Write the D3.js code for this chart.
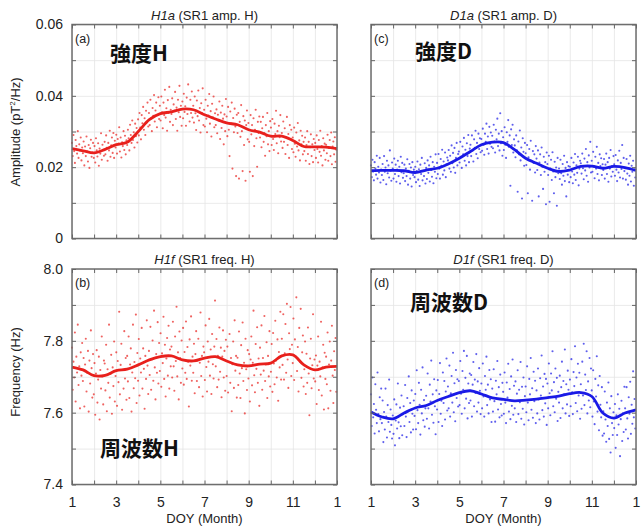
<html>
<head>
<meta charset="utf-8">
<style>
  body { margin: 0; background: #fff; }
  text { font-family: "Liberation Sans", Arial, sans-serif; }
  .grid line { stroke: #e4e4e4; stroke-width: 0.8; }
  .grid path { display: none; }
  .tk line { stroke: #666; stroke-width: 1; }
  .tk path { display: none; }
  .lab path, .lab line { display: none; }
  .jp { font-family: "Noto Sans CJK JP", sans-serif; font-weight: 700; font-size: 21px; fill: #111; }
</style>
</head>

<body>
  <svg id="svg" width=643 height=529></svg>

  <script src="https://cdn.jsdelivr.net/npm/d3@7/dist/d3.min.js"></script>
  <script type="text/javascript">
  // smoothed curve, sampled every half month
  const curveMonths = [1,1.5,2,2.5,3,3.5,4,4.5,5,5.5,6,6.5,7,7.5,8,8.5,9,9.5,10,10.5,11,11.5,12,12.5,13];
  const curveH1a = [0.0252,0.0246,0.0240,0.0250,0.0263,0.0270,0.0300,0.0333,0.0350,0.0355,0.0363,0.0361,0.0347,0.0335,0.0324,0.0319,0.0305,0.0298,0.0287,0.0287,0.0275,0.0258,0.0257,0.0256,0.0252];
  const curveD1a = [0.0190,0.0191,0.0191,0.0190,0.0185,0.0192,0.0197,0.0209,0.0225,0.0244,0.0263,0.0270,0.0269,0.0249,0.0225,0.0211,0.0197,0.0188,0.0192,0.0202,0.0203,0.0197,0.0202,0.0199,0.0191];
  const curveH1f = [7.727,7.719,7.703,7.704,7.717,7.721,7.733,7.747,7.756,7.758,7.747,7.744,7.752,7.756,7.744,7.733,7.730,7.735,7.738,7.758,7.761,7.733,7.719,7.727,7.729];
  const curveD1f = [7.602,7.588,7.583,7.599,7.613,7.620,7.634,7.645,7.656,7.661,7.652,7.641,7.637,7.633,7.635,7.638,7.642,7.646,7.653,7.656,7.645,7.599,7.585,7.599,7.608];

  // daily values over the year; amplitudes in 1e-4 pT^2/Hz, frequencies in mHz
  const dailyH1a = [
    268,231,290,245,212,276,259,238,301,226,264,247,283,219,255,
    239,272,205,258,231,286,244,216,262,198,253,277,229,241,268,
    226,259,213,281,247,230,267,204,252,238,295,221,263,249,232,
    271,236,289,254,218,268,247,302,229,261,283,240,296,226,274,
    255,291,238,279,266,312,244,283,227,270,259,301,248,288,236,275,
    262,305,281,247,319,290,268,331,276,298,255,322,287,310,269,
    334,289,352,311,278,346,323,369,305,337,290,358,326,381,314,
    352,318,389,337,301,366,344,402,328,359,381,312,347,396,335,
    372,331,398,354,309,381,346,417,339,365,302,388,352,425,327,361,
    349,393,318,376,358,411,335,367,302,389,354,428,341,372,316,
    384,337,406,355,371,316,395,349,432,363,328,389,352,412,339,
    372,325,398,351,304,387,343,415,331,366,297,379,352,421,318,
    361,314,389,336,298,372,345,405,322,357,286,378,340,398,312,351,
    318,362,295,347,331,384,279,353,310,372,336,264,348,301,391,
    342,287,369,305,231,356,322,381,196,338,298,364,314,175,347,
    296,352,168,327,285,374,301,189,343,262,331,162,318,359,278,
    324,271,187,346,292,318,175,337,259,305,361,281,201,327,296,342,
    283,327,256,309,341,271,296,232,318,287,352,264,301,245,329,
    311,262,335,279,248,322,293,358,267,301,239,316,284,346,272,
    296,254,328,271,309,237,284,341,262,293,226,318,279,305,251,
    283,242,311,266,229,297,258,324,247,275,219,302,264,288,236,271,
    245,283,218,262,301,237,271,209,256,292,231,264,214,279,248,
    268,226,289,251,213,276,243,302,232,259,205,281,247,266,221,
    263,239,291,218,254,276,231,297,208,258,272,236,284,215,249];
  const dailyD1a = [
    205,172,221,188,163,214,196,179,232,168,201,185,226,157,193,
    178,209,164,231,187,199,152,218,183,205,171,247,190,162,213,
    196,168,224,181,207,159,193,218,175,201,154,229,186,212,170,
    183,207,161,196,175,222,151,190,209,168,199,146,214,178,193,
    172,201,158,189,216,165,194,147,207,181,226,163,190,175,211,154,
    198,167,219,184,205,160,229,192,173,214,155,201,187,236,169,
    212,181,237,196,168,223,204,249,179,216,191,241,172,208,227,
    219,248,196,232,187,261,211,240,199,254,184,226,268,205,237,
    244,213,271,229,198,258,236,282,218,249,205,267,231,290,214,252,
    263,231,289,247,216,278,254,302,237,268,225,294,251,281,242,
    279,246,308,263,235,294,271,322,251,286,238,313,266,297,257,
    288,253,319,272,241,305,278,336,259,294,247,351,267,301,232,
    284,248,312,263,226,298,271,332,257,289,148,306,262,319,241,278,
    261,228,289,247,131,272,236,303,219,255,112,281,243,204,268,
    239,206,262,127,228,251,193,274,218,106,245,212,236,185,259,
    224,192,247,118,213,236,178,255,201,139,229,187,214,96,241,
    209,178,232,103,196,221,164,242,188,127,215,172,199,92,226,183,
    196,167,221,183,151,209,176,232,161,198,118,214,179,203,158,
    201,172,226,188,155,213,179,237,164,205,184,229,149,196,218,
    211,182,238,197,166,224,191,251,176,214,159,233,199,271,185,
    218,187,243,201,169,229,196,257,181,212,163,236,203,225,178,208,
    192,223,168,207,238,181,214,159,226,196,248,174,203,187,231,
    208,176,234,193,161,219,185,246,171,212,195,262,168,226,189,
    197,165,223,182,151,210,176,232,160,204,187,218,148,193,171];
  const dailyH1f = [
    7781,7664,7742,7698,7823,7631,7756,7712,7845,7677,7729,7612,7768,7703,7794,
    7688,7752,7617,7734,7806,7659,7711,7772,7603,7745,7681,7829,7724,7642,7763,
    7651,7738,7594,7709,7774,7628,7692,7756,7581,7719,7667,7812,7701,7623,7745,
    7737,7662,7789,7604,7721,7683,7845,7642,7708,7761,7597,7726,7674,7798,7631,
    7702,7768,7619,7744,7685,7881,7651,7733,7792,7608,7719,7667,7827,7695,7752,7636,
    7758,7687,7812,7641,7734,7779,7603,7712,7845,7668,7741,7696,7873,7627,7766,
    7689,7805,7648,7751,7712,7836,7667,7779,7722,7611,7758,7694,7857,7731,7652,
    7772,7705,7839,7664,7748,7801,7689,7884,7726,7637,7763,7711,7852,7681,7794,
    7716,7821,7672,7765,7738,7867,7694,7789,7645,7751,7808,7703,7842,7667,7776,7729,
    7784,7698,7853,7729,7661,7812,7744,7895,7701,7768,7637,7826,7752,7683,7801,
    7723,7836,7678,7769,7711,7854,7694,7783,7742,7617,7804,7731,7868,7689,7756,
    7711,7792,7654,7763,7827,7688,7745,7806,7671,7739,7879,7702,7758,7645,7784,
    7768,7691,7843,7727,7659,7798,7742,7861,7703,7776,7652,7819,7735,7695,7784,7912,
    7729,7805,7671,7758,7692,7837,7714,7781,7643,7756,7829,7698,7772,7661,7803,
    7702,7784,7656,7741,7819,7683,7752,7604,7735,7798,7669,7857,7717,7758,7642,
    7753,7677,7826,7709,7641,7788,7724,7851,7688,7739,7598,7806,7721,7663,7774,
    7695,7763,7631,7748,7812,7676,7739,7884,7704,7657,7791,7722,7838,7683,7751,7619,
    7781,7706,7843,7664,7752,7717,7869,7688,7734,7796,7641,7758,7701,7827,7673,
    7714,7791,7658,7822,7737,7679,7856,7745,7698,7804,7633,7769,7726,7881,7692,
    7806,7733,7874,7692,7765,7847,7711,7903,7748,7669,7821,7777,7894,7702,7789,
    7738,7862,7691,7804,7757,7921,7716,7783,7659,7836,7742,7889,7697,7768,7815,7673,
    7721,7798,7652,7764,7683,7837,7709,7593,7751,7806,7668,7732,7874,7695,7748,
    7687,7759,7624,7731,7812,7663,7742,7701,7853,7648,7726,7789,7609,7767,7694,
    7756,7679,7823,7612,7734,7798,7661,7745,7842,7703,7627,7771,7719,7808,7658];
  const dailyD1f = [
    7651,7563,7698,7587,7624,7542,7679,7608,7571,7712,7596,7548,7643,7582,7667,
    7571,7634,7518,7602,7553,7667,7589,7531,7621,7574,7692,7547,7609,7566,7528,
    7592,7541,7637,7509,7578,7623,7556,7681,7573,7529,7614,7562,7648,7537,7596,
    7618,7563,7677,7589,7532,7641,7604,7701,7574,7627,7545,7662,7597,7553,7634,
    7591,7652,7554,7718,7607,7571,7683,7622,7539,7664,7598,7726,7579,7635,7561,7612,
    7647,7583,7709,7612,7556,7678,7631,7745,7594,7651,7572,7693,7618,7540,7662,
    7609,7691,7574,7652,7738,7597,7633,7563,7712,7627,7688,7581,7659,7751,7606,
    7673,7612,7731,7589,7654,7702,7628,7767,7601,7682,7576,7719,7641,7693,7617,
    7688,7621,7744,7653,7597,7716,7664,7772,7612,7697,7639,7758,7584,7681,7627,7709,
    7634,7705,7589,7678,7741,7618,7692,7655,7763,7603,7687,7628,7724,7661,7596,
    7681,7612,7737,7645,7589,7702,7664,7756,7621,7678,7598,7719,7637,7693,7574,
    7667,7603,7721,7632,7575,7689,7651,7744,7609,7671,7587,7706,7624,7592,7683,
    7658,7597,7712,7628,7571,7684,7642,7736,7603,7666,7582,7701,7619,7748,7594,7675,
    7612,7687,7574,7653,7718,7596,7664,7629,7741,7583,7672,7611,7698,7567,7646,
    7673,7601,7729,7628,7579,7694,7651,7752,7608,7668,7586,7714,7632,7689,7571,
    7662,7598,7723,7637,7581,7696,7648,7759,7607,7673,7589,7708,7626,7694,7566,
    7681,7612,7737,7654,7593,7709,7662,7771,7618,7685,7601,7723,7639,7697,7577,7658,
    7628,7703,7585,7671,7742,7612,7688,7651,7776,7598,7679,7623,7717,7664,7591,
    7692,7618,7749,7657,7596,7713,7674,7785,7627,7698,7604,7736,7648,7711,7583,
    7679,7611,7742,7648,7792,7621,7706,7663,7771,7598,7687,7634,7752,7615,7723,
    7662,7589,7718,7631,7568,7694,7645,7757,7603,7676,7551,7702,7622,7587,7671,7536,
    7604,7542,7659,7581,7519,7628,7563,7684,7527,7612,7489,7646,7571,7538,7601,
    7557,7624,7502,7593,7538,7651,7567,7611,7479,7582,7633,7521,7598,7546,7672,
    7612,7553,7671,7584,7528,7643,7597,7686,7541,7622,7569,7715,7587,7638,7556];

  const monthTicks = [1,2,3,4,5,6,7,8,9,10,11,12,13];
  const monthLabels = [1,3,5,7,9,11,13];
  const ampTicks = [0,0.01,0.02,0.03,0.04,0.05,0.06];
  const ampLabels = [0,0.02,0.04,0.06];
  const freqTicks = [7.4,7.5,7.6,7.7,7.8,7.9,8.0];
  const freqLabels = [7.4,7.6,7.8,8.0];

  const RED = "#e8201c", BLUE = "#1a1ae6";

  const svg = d3.select("#svg");

  const xLeft = d3.scaleLinear().domain([1,13]).range([72,337]);
  const xRight = d3.scaleLinear().domain([1,13]).range([371,636]);
  const yAmp = d3.scaleLinear().domain([0,0.06]).range([238.5,24.5]);
  const yFreq = d3.scaleLinear().domain([7.4,8.0]).range([484.5,269]);

  const panels = [
    {x: xLeft, y: yAmp, ticks: ampTicks, labels: ampLabels, fmt: d3.format(".2f"),
     daily: dailyH1a.map(v => v / 10000), curve: curveH1a, color: RED,
     name: "H1a", rest: " (SR1 amp. H)", tag: "(a)", jp: "強度H", jx: 110, jy: 61, yTitle: true, xTitle: false},
    {x: xLeft, y: yFreq, ticks: freqTicks, labels: freqLabels, fmt: d3.format(".1f"),
     daily: dailyH1f.map(v => v / 1000), curve: curveH1f, color: RED,
     name: "H1f", rest: " (SR1 freq. H)", tag: "(b)", jp: "周波数H", jx: 100, jy: 456, yTitle: true, xTitle: true},
    {x: xRight, y: yAmp, ticks: ampTicks, labels: ampLabels, fmt: d3.format(".2f"),
     daily: dailyD1a.map(v => v / 10000), curve: curveD1a, color: BLUE,
     name: "D1a", rest: " (SR1 amp. D)", tag: "(c)", jp: "強度D", jx: 415, jy: 59, yTitle: false, xTitle: false},
    {x: xRight, y: yFreq, ticks: freqTicks, labels: freqLabels, fmt: d3.format(".1f"),
     daily: dailyD1f.map(v => v / 1000), curve: curveD1f, color: BLUE,
     name: "D1f", rest: " (SR1 freq. D)", tag: "(d)", jp: "周波数D", jx: 410, jy: 310, yTitle: false, xTitle: true}
  ];

  panels.forEach(function (p) {
    let x0 = p.x.range()[0], x1 = p.x.range()[1];
    let y0 = p.y.range()[1], y1 = p.y.range()[0];
    let w = x1 - x0, h = y1 - y0;
    let g = svg.append("g");

    // grid
    g.append("g").attr("class", "grid").attr("transform", "translate(0," + y1 + ")")
      .call(d3.axisBottom(p.x).tickValues(monthTicks).tickSize(-h).tickFormat(""));
    g.append("g").attr("class", "grid").attr("transform", "translate(" + x0 + ",0)")
      .call(d3.axisLeft(p.y).tickValues(p.ticks).tickSize(-w).tickFormat(""));

    // scatter of daily values
    let n = p.daily.length;
    g.append("g").selectAll("circle").data(p.daily).enter().append("circle")
      .attr("cx", (d,i) => p.x(1 + 12 * i / n))
      .attr("cy", d => p.y(d))
      .attr("r", 1.05)
      .style("fill", p.color)
      .style("opacity", 0.7);

    // smoothed curve
    let line = d3.line()
      .x((d,i) => p.x(curveMonths[i]))
      .y(d => p.y(d))
      .curve(d3.curveCatmullRom);
    g.append("path").datum(p.curve)
      .attr("d", line)
      .style("fill", "none")
      .style("stroke", p.color)
      .style("stroke-width", 2.8);

    // frame
    g.append("rect").attr("x", x0).attr("y", y0).attr("width", w).attr("height", h)
      .style("fill", "none").style("stroke", "#6e6e6e").style("stroke-width", 1.5);

    // inward ticks on all sides
    g.append("g").attr("class", "tk").attr("transform", "translate(0," + y1 + ")")
      .call(d3.axisBottom(p.x).tickValues(monthTicks).tickSize(-4).tickFormat(""));
    g.append("g").attr("class", "tk").attr("transform", "translate(0," + y0 + ")")
      .call(d3.axisTop(p.x).tickValues(monthTicks).tickSize(-4).tickFormat(""));
    g.append("g").attr("class", "tk").attr("transform", "translate(" + x0 + ",0)")
      .call(d3.axisLeft(p.y).tickValues(p.ticks).tickSize(-4).tickFormat(""));
    g.append("g").attr("class", "tk").attr("transform", "translate(" + x1 + ",0)")
      .call(d3.axisRight(p.y).tickValues(p.ticks).tickSize(-4).tickFormat(""));

    // tick labels
    if (p.yTitle) {
      let ya = g.append("g").attr("class", "lab").attr("transform", "translate(" + x0 + ",0)")
        .call(d3.axisLeft(p.y).tickValues(p.labels).tickSize(0).tickPadding(9).tickFormat(d => d === 0 ? "0" : p.fmt(d)));
      ya.selectAll("text").style("font-size", "14px").style("fill", "#222")
        .style("font-family", "'Liberation Sans', Arial, sans-serif");
    }
    if (p.xTitle) {
      let xa = g.append("g").attr("class", "lab").attr("transform", "translate(0," + y1 + ")")
        .call(d3.axisBottom(p.x).tickValues(monthLabels).tickSize(0).tickPadding(13).tickFormat(d => d === 13 ? "1" : d));
      xa.selectAll("text").style("font-size", "14px").style("fill", "#222")
        .style("font-family", "'Liberation Sans', Arial, sans-serif");
      g.append("text").attr("x", (x0 + x1) / 2).attr("y", 523)
        .attr("text-anchor", "middle").style("font-size", "13px").style("fill", "#222")
        .text("DOY (Month)");
    }

    // panel title
    let t = g.append("text").attr("x", (x0 + x1) / 2).attr("y", y0 - 5)
      .attr("text-anchor", "middle").style("font-size", "13px").style("fill", "#222");
    t.append("tspan").style("font-style", "italic").text(p.name);
    t.append("tspan").text(p.rest);

    // panel tag and Japanese label
    g.append("text").attr("x", x0 + 3).attr("y", y0 + 18)
      .style("font-size", "12.5px").style("fill", "#222").text(p.tag);
    g.append("text").attr("class", "jp").attr("x", p.jx).attr("y", p.jy).text(p.jp);
  });

  // y axis titles
  let at = svg.append("text").attr("transform", "translate(20,132) rotate(-90)")
    .attr("text-anchor", "middle").style("font-size", "13px").style("fill", "#222");
  at.append("tspan").text("Amplitude (pT");
  at.append("tspan").attr("dy", -5).style("font-size", "8px").text("2");
  at.append("tspan").attr("dy", 5).text("/Hz)");
  svg.append("text").attr("transform", "translate(20,372) rotate(-90)")
    .attr("text-anchor", "middle").style("font-size", "13px").style("fill", "#222")
    .text("Frequency (Hz)");
  </script>
</body>
</html>
